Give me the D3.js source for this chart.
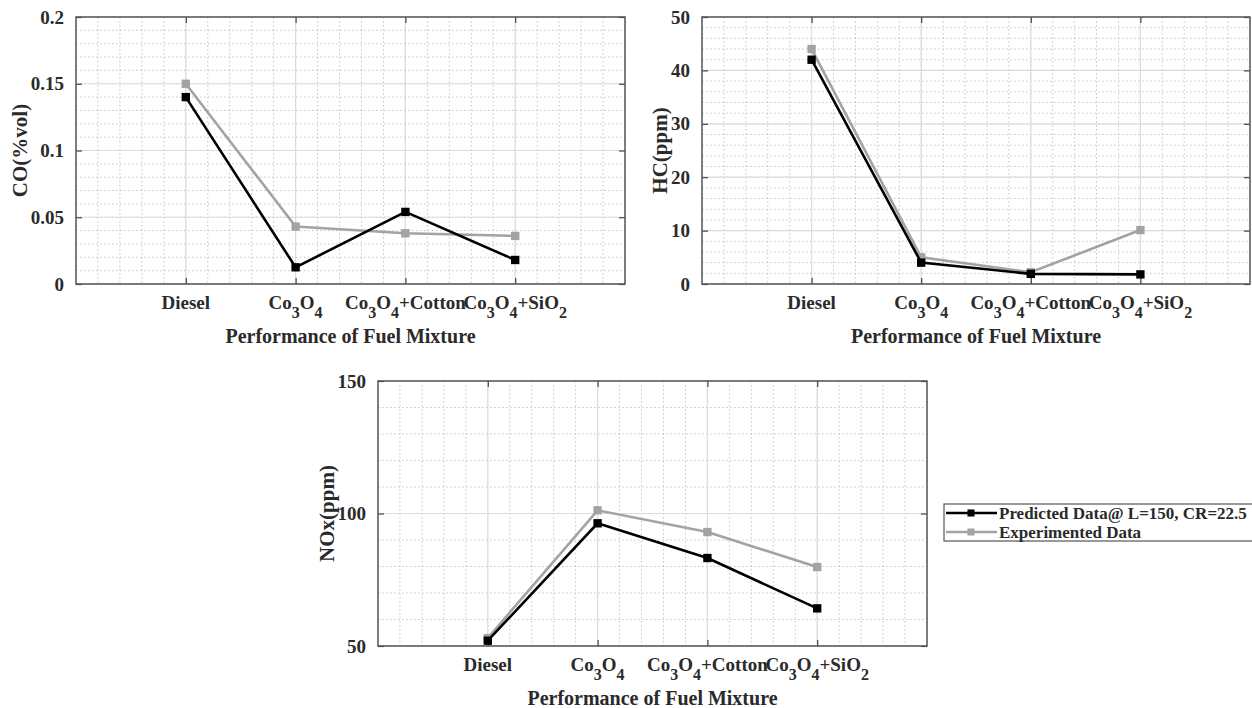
<!DOCTYPE html>
<html>
<head>
<meta charset="utf-8">
<script src="https://cdn.jsdelivr.net/npm/d3@7"></script>
<style>
  body { margin: 0; background: #fff; }
  text { font-family: "Liberation Serif", "Times New Roman", serif; font-weight: bold; fill: #2a2a2a; }
</style>
</head>
<body>
<div id="chart"></div>
<script>
// Data
const categories = ["Diesel", "Co3O4", "Co3O4+Cotton", "Co3O4+SiO2"];
const coPredicted = [0.14, 0.0125, 0.054, 0.018];
const coExperimented = [0.15, 0.043, 0.038, 0.036];
const hcPredicted = [42, 4, 1.9, 1.8];
const hcExperimented = [44, 5, 2.2, 10.1];
const noxPredicted = [52, 96.3, 83.2, 64.2];
const noxExperimented = [53, 101.2, 93, 79.8];
const legendLabels = ["Predicted Data@ L=150, CR=22.5", "Experimented Data"];

const width = 1252, height = 708;
const black = "#000", grey = "#a3a3a3";

const svg = d3.select("#chart").append("svg")
  .attr("width", width)
  .attr("height", height);

const panels = [
  { left: 76, right: 625, top: 17, bottom: 284, domain: [0, 0.2], major: 0.05, minor: 0.01,
    label: "CO(%vol)", labelX: 27, titleY: 343, pred: coPredicted, exp: coExperimented },
  { left: 702, right: 1250, top: 17, bottom: 284, domain: [0, 50], major: 10, minor: 2,
    label: "HC(ppm)", labelX: 667, titleY: 343, pred: hcPredicted, exp: hcExperimented },
  { left: 378, right: 927, top: 381, bottom: 646, domain: [50, 150], major: 50, minor: 10,
    label: "NOx(ppm)", labelX: 334, titleY: 705, pred: noxPredicted, exp: noxExperimented }
];

// digits in chemical names become subscripts
function chemLabel(sel, str, size) {
  const sub = 9;
  let prevDigit = false;
  str.split(/(\d)/).filter(s => s.length).forEach(part => {
    const isDigit = /\d/.test(part);
    const dy = (isDigit ? sub : 0) - (prevDigit ? sub : 0);
    const ts = sel.append("tspan").attr("dy", dy).text(part);
    if (isDigit) ts.style("font-size", (size - 3) + "px");
    prevDigit = isDigit;
  });
}

panels.forEach(p => {
  const x = d3.scaleLinear().domain([0, 5]).range([p.left, p.right]);
  const y = d3.scaleLinear().domain(p.domain).range([p.bottom, p.top]);
  const g = svg.append("g");

  const majorY = d3.range(p.domain[0], p.domain[1] + p.major / 2, p.major);
  const minorY = d3.range(p.domain[0], p.domain[1] + p.minor / 2, p.minor);
  const minorX = d3.range(0, 5.1, 0.2);

  // minor grid (dotted)
  g.selectAll(".mx").data(minorX).join("line")
    .attr("x1", d => x(d)).attr("x2", d => x(d))
    .attr("y1", p.top).attr("y2", p.bottom)
    .attr("stroke", "#c4c4c4").attr("stroke-width", 1).attr("stroke-dasharray", "1.5,2.5");
  g.selectAll(".my").data(minorY).join("line")
    .attr("x1", p.left).attr("x2", p.right)
    .attr("y1", d => y(d)).attr("y2", d => y(d))
    .attr("stroke", "#c4c4c4").attr("stroke-width", 1).attr("stroke-dasharray", "1.5,2.5");

  // major grid
  g.append("g").selectAll("line").data([1, 2, 3, 4]).join("line")
    .attr("x1", d => x(d)).attr("x2", d => x(d))
    .attr("y1", p.top).attr("y2", p.bottom)
    .attr("stroke", "#dcdcdc").attr("stroke-width", 1.2);
  g.append("g").selectAll("line").data(majorY).join("line")
    .attr("x1", p.left).attr("x2", p.right)
    .attr("y1", d => y(d)).attr("y2", d => y(d))
    .attr("stroke", "#dcdcdc").attr("stroke-width", 1.2);

  // axes (ticks inward, on all four sides)
  const fmt = d3.format("~g");
  const yAxis = g.append("g").attr("transform", `translate(${p.left},0)`)
    .call(d3.axisLeft(y).tickValues(majorY).tickSize(-6).tickPadding(12).tickFormat(fmt));
  yAxis.selectAll("text").style("font-size", "19px").attr("fill", "#2a2a2a");
  g.append("g").attr("transform", `translate(${p.right},0)`)
    .call(d3.axisRight(y).tickValues(majorY).tickSize(-6).tickFormat(""));
  g.append("g").attr("transform", `translate(0,${p.bottom})`)
    .call(d3.axisBottom(x).tickValues([1, 2, 3, 4]).tickSize(-6).tickFormat(""));
  g.append("g").attr("transform", `translate(0,${p.top})`)
    .call(d3.axisTop(x).tickValues([1, 2, 3, 4]).tickSize(-6).tickFormat(""));
  g.selectAll(".domain").remove();
  g.selectAll(".tick line").attr("stroke", "#444").attr("stroke-width", 1.2);

  // box
  g.append("rect")
    .attr("x", p.left).attr("y", p.top)
    .attr("width", p.right - p.left).attr("height", p.bottom - p.top)
    .attr("fill", "none").attr("stroke", "#555").attr("stroke-width", 1.5);

  // category labels
  categories.forEach((c, i) => {
    const t = g.append("text")
      .attr("x", x(i + 1)).attr("y", p.bottom + 25)
      .attr("text-anchor", "middle")
      .style("font-size", "19px");
    chemLabel(t, c, 19);
  });

  // axis titles
  g.append("text")
    .attr("x", (p.left + p.right) / 2).attr("y", p.titleY)
    .attr("text-anchor", "middle")
    .style("font-size", "20px")
    .text("Performance of Fuel Mixture");
  g.append("text")
    .attr("transform", `translate(${p.labelX},${(p.top + p.bottom) / 2}) rotate(-90)`)
    .attr("text-anchor", "middle")
    .style("font-size", "21px")
    .text(p.label);

  // series
  const line = d3.line().x((d, i) => x(i + 1)).y(d => y(d));
  [[p.exp, grey], [p.pred, black]].forEach(([vals, col]) => {
    g.append("path").datum(vals)
      .attr("d", line)
      .attr("fill", "none").attr("stroke", col).attr("stroke-width", 2.6);
    g.selectAll(null).data(vals).join("path")
      .attr("transform", (d, i) => `translate(${x(i + 1)},${y(d)})`)
      .attr("d", d3.symbol(d3.symbolSquare, 70))
      .attr("fill", col);
  });
});

// legend
const lg = svg.append("g").attr("transform", "translate(944,504)");
lg.append("rect")
  .attr("x", 0).attr("y", 0).attr("width", 330).attr("height", 37)
  .attr("fill", "#fff").attr("stroke", "#555").attr("stroke-width", 1.2);
[black, grey].forEach((col, i) => {
  const yy = 9 + i * 19;
  lg.append("line").attr("x1", 2).attr("x2", 53).attr("y1", yy).attr("y2", yy)
    .attr("stroke", col).attr("stroke-width", 2.6);
  lg.append("path").attr("transform", `translate(27,${yy})`)
    .attr("d", d3.symbol(d3.symbolSquare, 50)).attr("fill", col);
  lg.append("text").attr("x", 55).attr("y", yy).attr("dy", "0.35em")
    .style("font-size", "17px")
    .text(legendLabels[i]);
});
</script>
</body>
</html>
